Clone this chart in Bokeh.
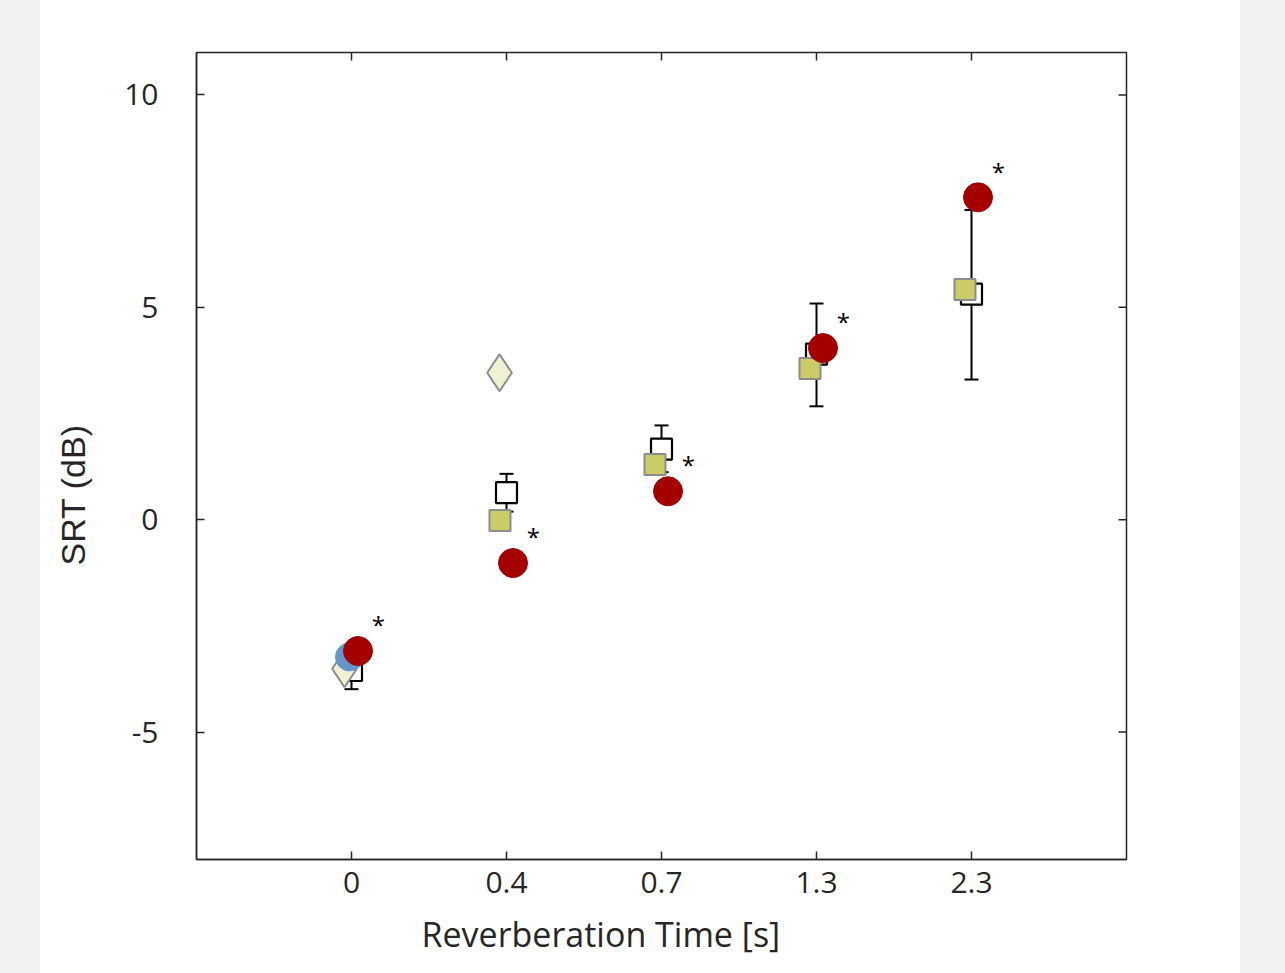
import re
from bokeh.plotting import figure
from bokeh.models import Range1d, FixedTicker, Title
from bokeh.embed import file_html
from bokeh.resources import INLINE
from bokeh.core.properties import value

nan = float("nan")

# Data
rt_labels = ["0", "0.4", "0.7", "1.3", "2.3"]
y_ticks = [-5, 0, 5, 10]
y_tick_labels = ["-5", "0", "5", "10"]
measured = [-3.55, 0.64, 1.66, 3.90, 5.31]
measured_lo = [-3.99, 0.19, 1.12, 2.67, 3.30]
measured_hi = [-3.11, 1.08, 2.22, 5.09, 7.29]
model_square = [nan, -0.02, 1.30, 3.56, 5.42]
model_diamond = [-3.51, 3.46, nan, nan, nan]
model_blue = [-3.23, nan, nan, nan, nan]
model_red = [-3.09, -1.02, 0.67, 4.04, 7.59]
significant = [True, True, True, True, True]

pos = [i + 1 for i in range(len(rt_labels))]

FONT = "Open Sans"
TXT = "#262626"
X0, X1, Y0, Y1 = 0, 6, -8, 11

p = figure(frame_width=930, frame_height=807, x_range=Range1d(X0, X1), y_range=Range1d(Y0, Y1),
           output_backend="svg", toolbar_location=None,
           min_border_left=157, min_border_right=113, min_border_top=52, min_border_bottom=114,
           background_fill_color="white", border_fill_color=None)
p.grid.visible = False
p.outline_line_color = "#262626"
p.outline_line_width = 1.5

for ax in (p.xaxis[0], p.yaxis[0]):
    ax.major_tick_in = 8
    ax.major_tick_out = 0
    ax.minor_tick_in = 0
    ax.minor_tick_out = 0
    ax.axis_line_color = "#262626"
    ax.axis_line_width = 1.5
    ax.major_tick_line_color = "#262626"
    ax.major_tick_line_width = 1.5
    ax.major_label_text_font = FONT
    ax.major_label_text_color = TXT
    ax.major_label_text_font_size = "30px"

p.xaxis.ticker = FixedTicker(ticks=pos)
p.xaxis.major_label_overrides = {pp: lab for pp, lab in zip(pos, rt_labels)}
p.yaxis.ticker = FixedTicker(ticks=y_ticks)
p.yaxis.major_label_overrides = {t: lab for t, lab in zip(y_ticks, y_tick_labels)}
p.xaxis.major_label_standoff = 12
p.yaxis.major_label_standoff = 38

# inward ticks on the top and right edges of the box
tick_y = 8 * (Y1 - Y0) / 807
tick_x = 8 * (X1 - X0) / 930
p.segment(x0=pos, y0=[Y1] * len(pos), x1=pos, y1=[Y1 - tick_y] * len(pos),
          line_color="#262626", line_width=1.5)
p.segment(x0=[X1] * len(y_ticks), y0=y_ticks, x1=[X1 - tick_x] * len(y_ticks), y1=y_ticks,
          line_color="#262626", line_width=1.5)

# error bars (measured)
cap = 0.045
p.segment(x0=pos, y0=measured_lo, x1=pos, y1=measured_hi, line_color="black", line_width=2)
p.segment(x0=[x - cap for x in pos], y0=measured_lo, x1=[x + cap for x in pos], y1=measured_lo,
          line_color="black", line_width=2)
p.segment(x0=[x - cap for x in pos], y0=measured_hi, x1=[x + cap for x in pos], y1=measured_hi,
          line_color="black", line_width=2)
p.scatter(x=pos, y=measured, marker="square", size=21, fill_color="white",
          line_color="black", line_width=2.2)

# model predictions
p.scatter(x=[x - 0.042 for x in pos], y=model_square, marker="square", size=21,
          fill_color="#cccc66", line_color="#8c8c8c", line_width=2)
p.scatter(x=[x - 0.045 for x in pos], y=model_diamond, marker="diamond", size=37,
          fill_color="#f0f0d2", line_color="#8c8c8c", line_width=2)
p.scatter(x=[x - 0.013 for x in pos], y=model_blue, marker="circle", size=28,
          fill_color="#6496c8", line_color="#6496c8", line_width=1)
p.scatter(x=[x + 0.042 for x in pos], y=model_red, marker="circle", size=29,
          fill_color="#a50000", line_color="#a00000", line_width=1)

# significance asterisks
ax_ = [x + 0.174 for x, s in zip(pos, significant) if s]
ay_ = [r + 0.62 for r, s in zip(model_red, significant) if s]
p.text(x=ax_, y=ay_, text=["*"] * len(ax_), text_align="center", text_baseline="middle",
       text_font=value(FONT), text_font_size="24px", text_color="black")

# axis titles
xt = Title(text="Reverberation Time [s]", align="left", offset=225, standoff=26,
           text_font=FONT, text_font_size="34px", text_font_style="normal", text_color=TXT)
p.add_layout(xt, "below")
yt = Title(text="SRT (dB)", align="left", offset=294, standoff=59,
           text_font="Liberation Sans", text_font_size="34px", text_font_style="normal",
           text_color=TXT)
p.add_layout(yt, "left")

html = file_html(p, INLINE)
css = ("<style>html,body{margin:0;padding:0;}"
       "body{padding-left:22px !important;"
       "background:linear-gradient(to right,#f2f2f2 0px,#f2f2f2 40px,#ffffff 40px,"
       "#ffffff 1240px,#f2f2f2 1240px) !important;min-height:973px;}</style>")
html = re.sub(r"</head>", css + "</head>", html, count=1, flags=re.I)
open("out.html", "w").write(html)
